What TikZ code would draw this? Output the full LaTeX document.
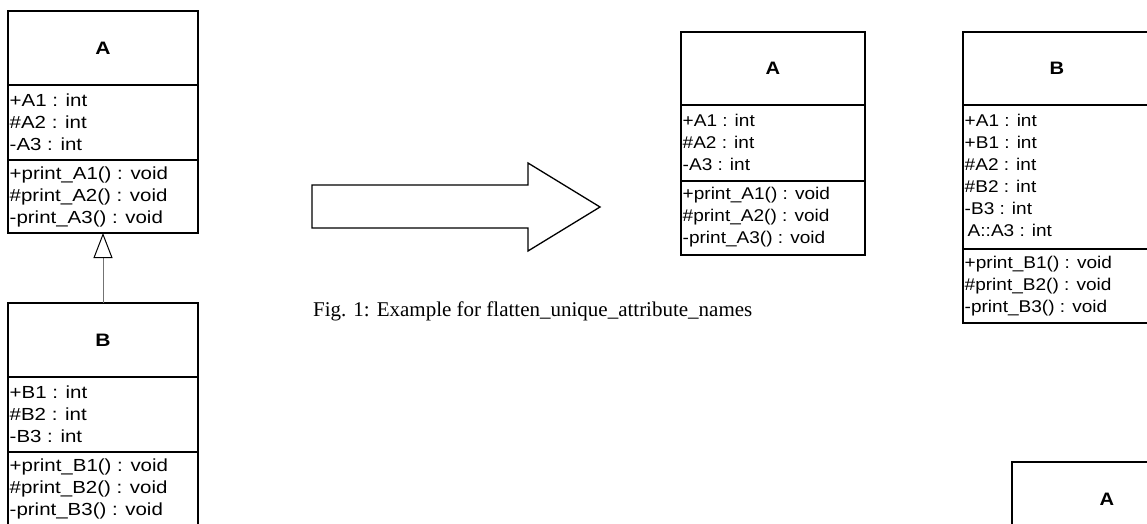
\documentclass[tikz,border=0pt]{standalone}
\usepackage{fontspec}
\usetikzlibrary{arrows.meta}
% class member text: a slightly widened sans face
\newfontfamily\umlfont[FakeStretch=1.12]{Liberation Sans}
\newfontfamily\umlwide[FakeStretch=1.17]{Liberation Sans}
\newfontfamily\capfont{Liberation Serif}
\begin{document}
\begin{tikzpicture}[x=1pt,y=-1pt,
  compart/.style={draw=black, line width=1.3pt, inner sep=0pt, outer sep=0pt,
    anchor=north west, minimum width=#1},
  member/.style={anchor=west, inner sep=0pt, font=\umlfont\fontsize{17}{20}\selectfont},
  memberw/.style={anchor=west, inner sep=0pt, font=\umlwide\fontsize{17.5}{20}\selectfont},
  title/.style={inner sep=0pt, font=\umlfont\bfseries\fontsize{18}{20}\selectfont},
  titlew/.style={inner sep=0pt, font=\umlwide\bfseries\fontsize{18}{20}\selectfont},
  gen/.style={draw=black!55, line width=1pt,
    -{Triangle[open, length=25pt, width=19pt, color=black, line width=1pt]}},
  bigarrow/.style={draw=black, line width=1.3pt, fill=white, line join=miter},
  caption/.style={anchor=west, inner sep=0pt, font=\capfont\fontsize{21}{24}\selectfont}
]
\useasboundingbox (0,0) rectangle (1147,524);

% ---- class A (before) ----
\node[compart=190pt, minimum height=74pt] (Aname) at (8,11) {};
\node[compart=190pt, minimum height=75pt] (Aattr) at (8,85) {};
\node[compart=190pt, minimum height=73pt] (Aops) at (8,160) {};
\node[titlew] (Atitle) at (Aname.center) {A};
\node[memberw] (Aa1) at (9.5,100) {+A1 : int};
\node[memberw] (Aa2) at (9.5,122) {\#A2 : int};
\node[memberw] (Aa3) at (9.5,144) {-A3 : int};
\node[memberw] (Ao1) at (9.5,175) {+print\_A1() : void};
\node[memberw] (Ao2) at (9.5,197) {\#print\_A2() : void};
\node[memberw] (Ao3) at (9.5,219) {-print\_A3() : void};

% ---- class B (before) ----
\node[compart=190pt, minimum height=74pt] (Bname) at (8,303) {};
\node[compart=190pt, minimum height=75pt] (Battr) at (8,377) {};
\node[compart=190pt, minimum height=73pt] (Bops) at (8,452) {};
\node[titlew] (Btitle) at (Bname.center) {B};
\node[memberw] (Ba1) at (9.5,392) {+B1 : int};
\node[memberw] (Ba2) at (9.5,414) {\#B2 : int};
\node[memberw] (Ba3) at (9.5,436) {-B3 : int};
\node[memberw] (Bo1) at (9.5,467) {+print\_B1() : void};
\node[memberw] (Bo2) at (9.5,489) {\#print\_B2() : void};
\node[memberw] (Bo3) at (9.5,511) {-print\_B3() : void};

% generalisation B -> A
\draw[gen] (Bname.north) -- (Aops.south);

% ---- transformation arrow ----
\draw[bigarrow] (312,185) -- (528,185) -- (528,163) -- (600,207)
  -- (528,251) -- (528,228) -- (312,228) -- cycle;

% ---- class A (after) ----
\node[compart=184pt, minimum height=73pt] (Fname) at (681,32) {};
\node[compart=184pt, minimum height=76pt] (Fattr) at (681,105) {};
\node[compart=184pt, minimum height=74pt] (Fops) at (681,181) {};
\node[title] (Ftitle) at (Fname.center) {A};
\node[member] (Fa1) at (682.5,120) {+A1 : int};
\node[member] (Fa2) at (682.5,142) {\#A2 : int};
\node[member] (Fa3) at (682.5,164) {-A3 : int};
\node[member] (Fo1) at (682.5,195) {+print\_A1() : void};
\node[member] (Fo2) at (682.5,217) {\#print\_A2() : void};
\node[member] (Fo3) at (682.5,239) {-print\_A3() : void};

% ---- class B (after, flattened) ----
\node[compart=188pt, minimum height=73pt] (Gname) at (963,32) {};
\node[compart=188pt, minimum height=144pt] (Gattr) at (963,105) {};
\node[compart=188pt, minimum height=74pt] (Gops) at (963,249) {};
\node[title] (Gtitle) at (Gname.center) {B};
\node[member] (Ga1) at (964.5,120) {+A1 : int};
\node[member] (Ga2) at (964.5,142) {+B1 : int};
\node[member] (Ga3) at (964.5,164) {\#A2 : int};
\node[member] (Ga4) at (964.5,186) {\#B2 : int};
\node[member] (Ga5) at (964.5,208) {-B3 : int};
\node[member] (Ga6) at (967.5,230) {A::A3 : int};
\node[member] (Go1) at (964.5,264) {+print\_B1() : void};
\node[member] (Go2) at (964.5,286) {\#print\_B2() : void};
\node[member] (Go3) at (964.5,308) {-print\_B3() : void};

% ---- caption ----
\node[caption] (cap) at (313,311) {Fig. 1: Example for flatten\_unique\_attribute\_names};

% ---- class A (next example) ----
\node[compart=190pt, minimum height=74pt] (Hname) at (1012,462) {};
\node[title] (Htitle) at (Hname.center) {A};
\end{tikzpicture}
\end{document}
